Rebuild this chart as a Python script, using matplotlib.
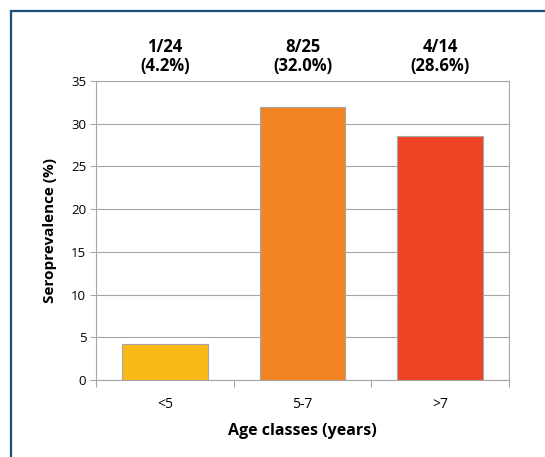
import matplotlib.pyplot as plt
from matplotlib.patches import Rectangle

age_classes = ['<5', '5-7', '>7']
seroprevalence = [4.2, 32.0, 28.6]
counts = ['1/24', '8/25', '4/14']
bar_colors = ['#FBB917', '#F28424', '#EE4325']

plt.rcParams['font.family'] = ['Open Sans', 'DejaVu Sans']

fig = plt.figure(figsize=(5.45, 4.57), dpi=100)
ax = fig.add_axes([96 / 545, 1 - 380 / 457, (509 - 96) / 545, (380 - 81) / 457])

grey = '#A6A6A6'
x = range(len(age_classes))
ax.bar(x, seroprevalence, width=0.62, color=bar_colors, edgecolor=grey,
       linewidth=0.8, zorder=3)

ax.set_xlim(-0.5, 2.5)
ax.set_ylim(0, 35)
ax.set_yticks(range(0, 36, 5))
ax.set_xticks(list(x))
ax.set_xticklabels(age_classes, fontsize=10)
ax.set_xticks([-0.5, 0.5, 1.5, 2.5], minor=True)
ax.tick_params(axis='x', which='major', length=0, pad=12)
ax.tick_params(axis='x', which='minor', length=5, color=grey, width=0.8)
ax.tick_params(axis='y', length=4, color=grey, width=0.8, labelsize=9.5, pad=3)
ax.grid(axis='y', color=grey, linewidth=0.8, zorder=0)
for s in ax.spines.values():
    s.set_color(grey)
    s.set_linewidth(0.8)

ax.set_xlabel('Age classes (years)', fontsize=11.5, fontweight='bold', labelpad=8)
ax.set_ylabel('Seroprevalence (%)', fontsize=11, fontweight='bold', labelpad=10)

for i, (c, v) in enumerate(zip(counts, seroprevalence)):
    ax.annotate(f'{c}\n({v:.1f}%)', xy=(i, 1), xycoords=('data', 'axes fraction'),
                xytext=(0, 4), textcoords='offset points', ha='center', va='bottom',
                fontsize=12, fontweight='bold', linespacing=1.1)

# dark blue frame, cut off at the right and bottom
fig.add_artist(Rectangle((10.5 / 545, -0.1), 1.0, 1.1 - 10.5 / 457,
                         transform=fig.transFigure, fill=False,
                         edgecolor='#1B4F7E', linewidth=1.6, clip_on=False))

fig.savefig('out.png', dpi=100)
